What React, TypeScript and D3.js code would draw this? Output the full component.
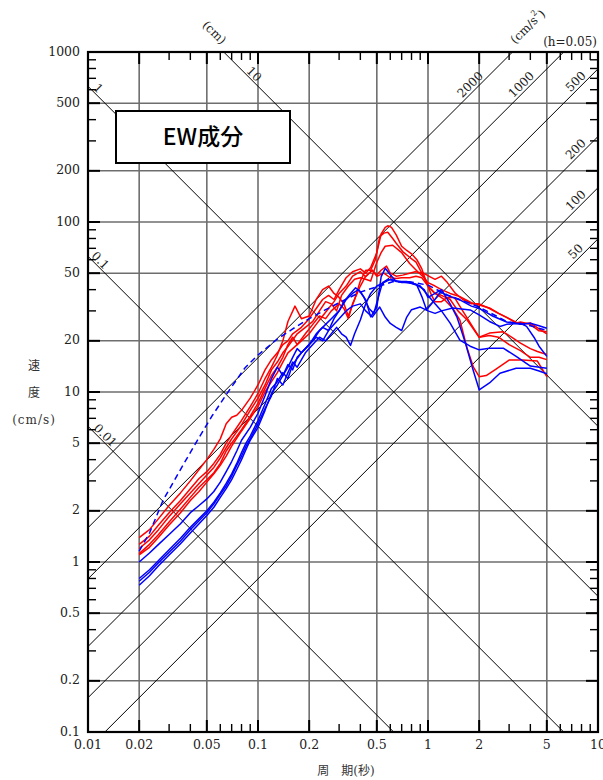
import React from 'react';
import * as d3 from 'd3';

type Pt = [number, number];

// ---------- axis data ----------
const xTicks = [0.01, 0.02, 0.05, 0.1, 0.2, 0.5, 1, 2, 5, 10];
const xTickLabels = ['0.01', '0.02', '0.05', '0.1', '0.2', '0.5', '1', '2', '5', '10'];
const yTicks = [0.1, 0.2, 0.5, 1, 2, 5, 10, 20, 50, 100, 200, 500, 1000];
const yTickLabels = ['0.1', '0.2', '0.5', '1', '2', '5', '10', '20', '50', '100', '200', '500', '1000'];
const xDecades = [0.01, 0.1, 1];
const yDecades = [0.1, 1, 10, 100];
const minorMultipliers = [3, 4, 6, 7, 8, 9];

// tripartite guide lines
const dispValues = [0.01, 0.1, 1, 10];
const dispLabels = ['0.01', '0.1', '1', '10'];
const accValues = [2000, 1000, 500, 200, 100, 50];
const accLabels = ['2000', '1000', '500', '200', '100', '50'];

// ---------- spectra (period s, velocity cm/s) ----------
const red1: Pt[] = [[0.02,1.39],[0.023,1.55],[0.026,1.8],[0.03,2.15],[0.035,2.55],[0.04,3.0],[0.045,3.5],[0.05,4.0],[0.055,4.6],[0.06,5.3],[0.065,6.5],[0.07,7.1],[0.075,7.3],[0.08,7.8],[0.09,9.2],[0.1,11.0],[0.11,13.5],[0.12,15.5],[0.13,17],[0.14,19],[0.15,20],[0.16,22],[0.18,24],[0.2,27],[0.22,31],[0.24,35],[0.26,37],[0.28,35],[0.3,40],[0.33,47],[0.36,51],[0.4,53],[0.43,50],[0.46,54],[0.5,66],[0.53,85],[0.56,93],[0.58,95],[0.61,93],[0.65,84],[0.7,72],[0.75,68],[0.8,65],[0.86,60],[0.92,53],[0.98,44],[1.05,37],[1.1,34],[1.2,34],[1.3,36],[1.43,36],[1.6,30],[1.84,24],[2.0,21],[2.3,22.2],[2.77,22.6],[3.1,21],[3.5,19.4],[4.0,18],[4.4,17.3],[5.0,16.6]];
const red2: Pt[] = [[0.02,1.27],[0.023,1.42],[0.026,1.65],[0.03,1.95],[0.035,2.3],[0.04,2.7],[0.045,3.1],[0.05,3.4],[0.055,3.8],[0.06,4.3],[0.065,5.0],[0.07,5.6],[0.08,6.8],[0.09,8.2],[0.1,9.8],[0.11,12],[0.12,14],[0.13,16.5],[0.14,20],[0.15,26],[0.165,32],[0.18,27],[0.2,28],[0.22,35],[0.24,40],[0.26,42],[0.28,38],[0.3,36],[0.32,33],[0.34,28],[0.37,35],[0.4,45],[0.43,52],[0.46,52],[0.49,60],[0.52,82],[0.55,86],[0.58,87],[0.62,80],[0.65,75],[0.71,67],[0.78,62],[0.85,58],[0.92,50],[1.0,42],[1.1,38],[1.25,35],[1.4,31],[1.54,26.5],[1.7,18],[1.85,14],[2.0,12.3],[2.2,12.5],[2.5,13.6],[3.0,15.4],[3.6,15.4],[4.4,15.2],[5.0,12.3]];
const red3: Pt[] = [[0.02,1.2],[0.023,1.35],[0.026,1.55],[0.03,1.85],[0.035,2.2],[0.04,2.55],[0.045,2.9],[0.05,3.25],[0.055,3.6],[0.06,4.1],[0.065,4.7],[0.07,5.3],[0.08,6.4],[0.09,7.8],[0.1,9.2],[0.11,11],[0.12,13.5],[0.13,15],[0.14,17],[0.15,18.5],[0.17,22],[0.19,24],[0.21,26],[0.23,30],[0.25,34],[0.27,33],[0.29,30],[0.31,37],[0.34,42],[0.37,46],[0.4,47],[0.43,46],[0.46,45],[0.5,58],[0.53,66],[0.56,72],[0.62,73],[0.7,66],[0.78,57],[0.87,51],[0.95,47],[1.0,44],[1.1,42],[1.2,40],[1.35,38],[1.54,36.4],[1.8,33.5],[2.0,32.5],[2.3,31.2],[2.6,29],[2.9,27.5],[3.3,25.4],[3.5,25.8],[4.0,25],[4.5,22.9],[5.0,22.6]];
const red4: Pt[] = [[0.02,1.12],[0.023,1.27],[0.026,1.45],[0.03,1.72],[0.035,2.05],[0.04,2.4],[0.045,2.75],[0.05,3.05],[0.055,3.35],[0.06,3.8],[0.065,4.5],[0.07,5.0],[0.08,6.0],[0.09,7.2],[0.1,8.6],[0.11,10.5],[0.12,12.5],[0.13,14],[0.14,16],[0.15,19],[0.16,21],[0.17,19],[0.19,22],[0.21,25],[0.23,28],[0.25,27],[0.27,30],[0.3,33],[0.32,31],[0.34,27],[0.36,33],[0.4,42],[0.43,48],[0.47,52],[0.5,49],[0.53,52],[0.57,55],[0.6,50],[0.65,48],[0.71,48.7],[0.78,50],[0.84,51],[0.94,50],[1.03,47.6],[1.1,46],[1.2,48],[1.3,44],[1.45,38],[1.6,35],[1.8,33],[2.0,33],[2.3,31],[2.6,29],[3.0,27],[3.5,25],[4.0,25.5],[4.5,23.5],[5.0,22]];
const red5: Pt[] = [[0.02,1.1],[0.023,1.22],[0.026,1.4],[0.03,1.65],[0.035,1.95],[0.04,2.3],[0.045,2.6],[0.05,2.95],[0.055,3.3],[0.06,3.7],[0.065,4.2],[0.07,4.8],[0.08,5.9],[0.09,7.0],[0.1,8.2],[0.11,10],[0.12,11.5],[0.13,13],[0.14,15],[0.15,17],[0.16,18],[0.18,20],[0.2,22],[0.22,25],[0.24,28],[0.26,31],[0.28,34],[0.3,38],[0.33,42],[0.36,48],[0.4,51],[0.43,47.6],[0.47,52],[0.5,48],[0.55,50],[0.6,47],[0.65,46.5],[0.7,47],[0.78,47],[0.85,48],[0.92,47],[1.0,42],[1.1,38],[1.2,37],[1.35,35],[1.5,30],[1.7,26.5],[2.0,21],[2.3,21.5],[2.6,21],[3.0,19],[3.5,17.5],[4.0,16],[4.5,16],[5.0,15.5]];

const blue1: Pt[] = [[0.02,1.0],[0.023,1.13],[0.026,1.27],[0.03,1.45],[0.035,1.68],[0.04,1.95],[0.045,2.15],[0.05,2.35],[0.055,2.6],[0.06,2.95],[0.065,3.4],[0.07,3.9],[0.075,4.5],[0.08,5.2],[0.09,6.2],[0.1,7.5],[0.11,9.5],[0.12,12],[0.13,14],[0.14,12.5],[0.15,14],[0.16,16],[0.17,18],[0.18,17],[0.2,19],[0.22,22],[0.24,24],[0.26,23],[0.28,27],[0.3,30],[0.32,34],[0.35,38],[0.375,41],[0.4,39],[0.43,34.8],[0.46,27.7],[0.5,31.6],[0.53,47.6],[0.56,53.4],[0.6,49],[0.65,44.7],[0.75,44.7],[0.86,42.5],[0.92,36.4],[0.98,30.5],[1.05,33],[1.18,38.7],[1.3,37],[1.54,34.8],[1.8,32],[2.0,31],[2.4,28],[2.9,25.8],[3.5,25],[4.0,25.4],[4.5,24.5],[5.0,23.7]];
const blue2: Pt[] = [[0.02,0.8],[0.023,0.9],[0.026,1.02],[0.03,1.18],[0.035,1.38],[0.04,1.6],[0.045,1.8],[0.05,2.0],[0.055,2.25],[0.06,2.55],[0.065,2.9],[0.07,3.3],[0.075,3.8],[0.08,4.4],[0.085,5.0],[0.09,5.5],[0.1,6.8],[0.11,8.5],[0.12,10.5],[0.13,11.5],[0.14,13],[0.15,12],[0.16,14.5],[0.18,17],[0.2,19],[0.22,21],[0.24,20],[0.26,23],[0.28,25],[0.3,27],[0.33,30],[0.36,32],[0.4,33],[0.43,30],[0.47,27.6],[0.52,31.6],[0.56,27.6],[0.6,25.3],[0.65,24],[0.7,23],[0.75,27.6],[0.8,30.5],[0.9,31.6],[1.0,30],[1.1,29],[1.2,30],[1.4,31.2],[1.77,30.4],[2.0,28.4],[2.3,26],[2.65,24.3],[2.9,25],[3.5,25.4],[3.8,24.3],[4.2,21],[4.5,18.6],[5.0,16.2]];
const blue3: Pt[] = [[0.02,0.77],[0.023,0.87],[0.026,0.99],[0.03,1.14],[0.035,1.33],[0.04,1.55],[0.045,1.75],[0.05,1.95],[0.055,2.2],[0.06,2.5],[0.065,2.8],[0.07,3.2],[0.075,3.7],[0.08,4.2],[0.085,4.8],[0.09,5.3],[0.1,6.5],[0.11,8],[0.12,9.5],[0.13,12],[0.14,11],[0.15,13],[0.16,15],[0.17,14],[0.19,17],[0.21,19],[0.23,21],[0.25,20],[0.27,22],[0.29,24],[0.31,22],[0.33,21],[0.35,18.8],[0.37,22],[0.4,26.5],[0.43,33],[0.46,38],[0.5,42],[0.55,44],[0.6,46],[0.65,45],[0.7,44],[0.8,44],[0.9,42],[1.0,37],[1.1,33],[1.2,30],[1.35,25.4],[1.54,20.2],[1.77,18.6],[2.0,17.7],[2.3,18.1],[2.77,18.1],[3.3,16.2],[4.0,14.2],[5.0,13.8]];
const blue4: Pt[] = [[0.02,0.73],[0.023,0.83],[0.026,0.95],[0.03,1.1],[0.035,1.28],[0.04,1.48],[0.045,1.68],[0.05,1.88],[0.055,2.1],[0.06,2.4],[0.065,2.7],[0.07,3.05],[0.075,3.5],[0.08,4.0],[0.085,4.6],[0.09,5.2],[0.1,6.2],[0.11,7.8],[0.12,9.8],[0.13,11],[0.14,12.5],[0.15,14.5],[0.16,13.5],[0.17,16],[0.19,18],[0.21,20],[0.23,23],[0.25,25],[0.27,27],[0.3,30],[0.33,35],[0.36,38],[0.39,40],[0.42,36],[0.45,31],[0.48,29],[0.51,36],[0.54,44],[0.58,46],[0.65,45],[0.75,44],[0.85,43],[0.95,40],[1.0,36],[1.1,38],[1.2,40],[1.35,33],[1.48,27.6],[1.66,19.4],[1.84,13.5],[2.0,10.3],[2.3,11.3],[2.65,12.9],[3.3,13.8],[4.0,13.8],[4.5,13.3],[5.0,12.8]];
const blueDashed: Pt[] = [[0.02,1.16],[0.023,1.48],[0.0276,2.3],[0.035,3.5],[0.044,5.2],[0.054,7.3],[0.068,10.3],[0.084,13.9],[0.1,16.5],[0.13,20.5],[0.16,23.5],[0.2,27],[0.25,30.5],[0.3,33.5],[0.4,38.7],[0.5,41.6],[0.62,44.5],[0.78,44.5],[1.0,42.5],[1.3,37.2],[1.8,33],[2.0,31.6],[2.9,26],[4.0,24.5],[5.0,23]];

const redSeries = [red1, red2, red3, red4, red5];
const blueSeries = [blue1, blue2, blue3, blue4];

// ---------- layout ----------
const W = 603, H = 780;
const L = 88, R = 598, T = 52, B = 732;
const x = d3.scaleLog().domain([0.01, 10]).range([L, R]);
const y = d3.scaleLog().domain([0.1, 1000]).range([B, T]);
const line = d3.line<Pt>().x(d => x(d[0])).y(d => y(d[1]));

const serif = "'DejaVu Serif', 'Noto Sans CJK JP', serif";
const TWO_PI = 2 * Math.PI;

export default function App() {
  const minorX: number[] = [];
  xDecades.forEach(d => minorMultipliers.forEach(m => minorX.push(d * m)));
  const minorY: number[] = [];
  yDecades.forEach(d => minorMultipliers.forEach(m => minorY.push(d * m)));

  // displacement lines: SV = 2πSD/T ; acceleration lines: SV = SA·T/2π
  const dispLine = (sd: number) => line([[0.001, TWO_PI * sd / 0.001], [100, TWO_PI * sd / 100]]);
  const accLine = (sa: number) => line([[0.001, sa * 0.001 / TWO_PI], [100, sa * 100 / TWO_PI]]);

  const dispAlong = [17, 12, 10, 30];
  const dispLabelPos = dispValues.map((sd, i) => {
    const svLeft = TWO_PI * sd / 0.01;
    const entryX = svLeft <= 1000 ? L : x(TWO_PI * sd / 1000);
    const px = entryX + dispAlong[i];
    const py = y(TWO_PI * sd / x.invert(px));
    return { px, py: py - 7.5 };
  });
  const accLabelPos = accValues.map(sa => {
    const svRight = sa * 10 / TWO_PI;
    const topExit = svRight > 1000;
    const exitX = topExit ? x(1000 * TWO_PI / sa) : R;
    const px = exitX - (topExit ? 42 : 22);
    const py = y(sa * x.invert(px) / TWO_PI);
    return { px, py: py - 9 };
  });

  return (
    <svg width={W} height={H} style={{ position: 'absolute', left: 0, top: 0, background: '#fff' }}>
      <defs>
        <clipPath id="plot"><rect x={L} y={T} width={R - L} height={B - T} /></clipPath>
      </defs>
      <rect x={0} y={0} width={W} height={H} fill="#fff" />

      {/* grid */}
      <g stroke="#6e6e6e" strokeWidth={1.6}>
        {xTicks.map(v => <line key={'gx' + v} x1={x(v)} x2={x(v)} y1={T} y2={B} />)}
        {yTicks.map(v => <line key={'gy' + v} x1={L} x2={R} y1={y(v)} y2={y(v)} />)}
      </g>

      {/* tripartite lines */}
      <g clipPath="url(#plot)" stroke="#000" strokeWidth={1} fill="none">
        {dispValues.map(v => <path key={'d' + v} d={dispLine(v) || ''} />)}
        {accValues.map(v => <path key={'a' + v} d={accLine(v) || ''} />)}
      </g>

      {/* ticks */}
      <g stroke="#000" strokeWidth={1.4}>
        {minorX.map(v => (
          <g key={'mx' + v}>
            <line x1={x(v)} x2={x(v)} y1={B} y2={B - 8} />
            <line x1={x(v)} x2={x(v)} y1={T} y2={T + 8} />
          </g>
        ))}
        {minorY.map(v => (
          <g key={'my' + v}>
            <line x1={L} x2={L + 8} y1={y(v)} y2={y(v)} />
            <line x1={R} x2={R - 8} y1={y(v)} y2={y(v)} />
          </g>
        ))}
      </g>
      <g stroke="#000" strokeWidth={2}>
        {xTicks.map(v => (
          <g key={'Mx' + v}>
            <line x1={x(v)} x2={x(v)} y1={B} y2={B - 12} />
            <line x1={x(v)} x2={x(v)} y1={T} y2={T + 12} />
          </g>
        ))}
        {yTicks.map(v => (
          <g key={'My' + v}>
            <line x1={L} x2={L + 12} y1={y(v)} y2={y(v)} />
            <line x1={R} x2={R - 12} y1={y(v)} y2={y(v)} />
          </g>
        ))}
      </g>

      {/* spectra */}
      <g clipPath="url(#plot)" fill="none" strokeWidth={1.5} strokeLinejoin="round">
        {redSeries.map((s, i) => <path key={'r' + i} d={line(s) || ''} stroke="#ff0000" />)}
        {blueSeries.map((s, i) => <path key={'b' + i} d={line(s) || ''} stroke="#0000ff" />)}
        <path d={line(blueDashed) || ''} stroke="#0000ff" strokeDasharray="6,4" />
      </g>

      {/* frame */}
      <rect x={L} y={T} width={R - L} height={B - T} fill="none" stroke="#000" strokeWidth={2.2} />

      {/* tick labels */}
      <g fontFamily={serif} fontSize={12.5} fill="#222">
        {xTicks.map((v, i) => (
          <text key={'xl' + v} x={x(v)} y={745} textAnchor="middle" dominantBaseline="middle">{xTickLabels[i]}</text>
        ))}
        {yTicks.map((v, i) => (
          <text key={'yl' + v} x={80} y={y(v)} textAnchor="end" dominantBaseline="middle">{yTickLabels[i]}</text>
        ))}
      </g>

      {/* diagonal labels */}
      <g fontFamily={serif} fontSize={12} fill="#222">
        {dispLabelPos.map((p, i) => (
          <text key={'dl' + i} transform={`translate(${p.px},${p.py}) rotate(45)`} textAnchor="middle" dominantBaseline="middle">{dispLabels[i]}</text>
        ))}
        {accLabelPos.map((p, i) => (
          <text key={'al' + i} transform={`translate(${p.px},${p.py}) rotate(-45)`} textAnchor="middle" dominantBaseline="middle">{accLabels[i]}</text>
        ))}
        <text transform="translate(214,33) rotate(45)" textAnchor="middle" dominantBaseline="middle">(cm)</text>
        <text transform="translate(528,27) rotate(-45)" textAnchor="middle" dominantBaseline="middle">
          (cm/s<tspan fontSize={8} dy={-5}>2</tspan><tspan dy={5}>)</tspan>
        </text>
        <text x={597} y={42} textAnchor="end" dominantBaseline="middle">(h=0.05)</text>
      </g>

      {/* axis titles */}
      <g fontFamily={serif} fontSize={12} fill="#333">
        <text x={34} y={366} textAnchor="middle" dominantBaseline="middle">速</text>
        <text x={34} y={393} textAnchor="middle" dominantBaseline="middle">度</text>
        <text x={34} y={420} textAnchor="middle" dominantBaseline="middle" letterSpacing={1}>(cm/s)</text>
        <text x={346} y={771} textAnchor="middle" dominantBaseline="middle">周　期(秒)</text>
      </g>

      {/* title box */}
      <rect x={116} y={111} width={174} height={52} fill="#fff" stroke="#000" strokeWidth={2} />
      <text x={203} y={139} textAnchor="middle" dominantBaseline="middle" fontFamily="'Noto Sans CJK JP', sans-serif" fontWeight={500} fontSize={23} fill="#000">EW成分</text>
    </svg>
  );
}
